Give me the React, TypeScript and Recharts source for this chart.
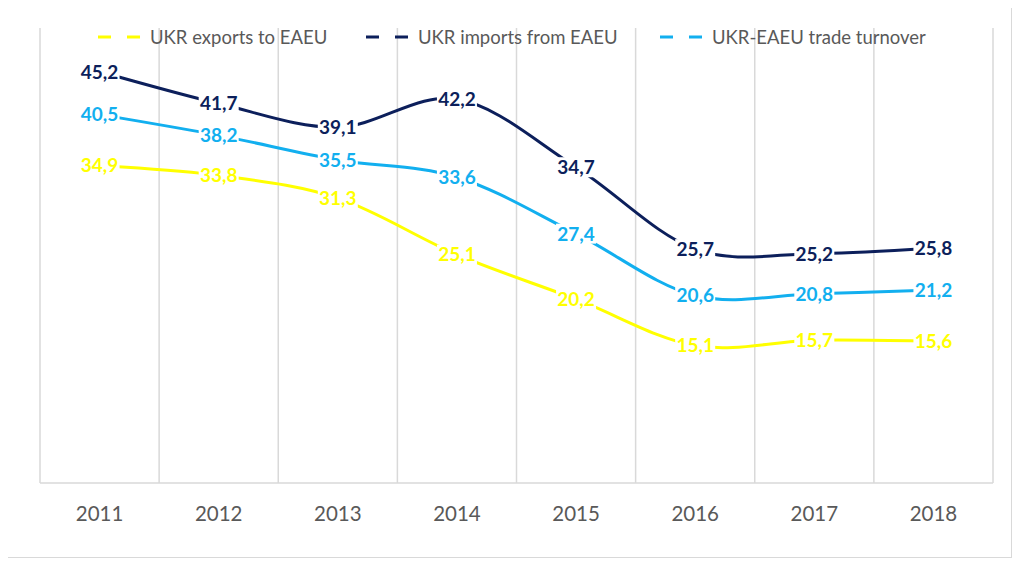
import { LineChart, Line, XAxis, YAxis, CartesianGrid, LabelList } from 'recharts';

const years = ['2011', '2012', '2013', '2014', '2015', '2016', '2017', '2018'];
const exportsEaeu = [34.9, 33.8, 31.3, 25.1, 20.2, 15.1, 15.7, 15.6];
const importsEaeu = [45.2, 41.7, 39.1, 42.2, 34.7, 25.7, 25.2, 25.8];
const turnover = [40.5, 38.2, 35.5, 33.6, 27.4, 20.6, 20.8, 21.2];

const YELLOW = '#FFFF00';
const NAVY = '#0C1F5B';
const SKY = '#12AFEF';
const GREY = '#595959';
const FONT = 'Lato, "Open Sans", sans-serif';

const data = years.map((year, i) => ({
  idx: i,
  year,
  exports: exportsEaeu[i],
  imports: importsEaeu[i],
  turnover: turnover[i],
}));

// category boundaries for the vertical gridlines
const bounds = years.map((_, i) => i - 0.5).concat(years.length - 0.5);

// smoothed line like the spreadsheet one (catmull-rom through points)
const smoothCurve = (context: any) => {
  let pts: number[][] = [];
  return {
    areaStart() {},
    areaEnd() {},
    lineStart() {
      pts = [];
    },
    point(x: number, y: number) {
      pts.push([+x, +y]);
    },
    lineEnd() {
      if (!pts.length) return;
      context.moveTo(pts[0][0], pts[0][1]);
      for (let i = 0; i < pts.length - 1; i++) {
        const p0 = pts[i - 1] || pts[i];
        const p1 = pts[i];
        const p2 = pts[i + 1];
        const p3 = pts[i + 2] || p2;
        context.bezierCurveTo(
          p1[0] + (p2[0] - p0[0]) / 6,
          p1[1] + (p2[1] - p0[1]) / 6,
          p2[0] - (p3[0] - p1[0]) / 6,
          p2[1] - (p3[1] - p1[1]) / 6,
          p2[0],
          p2[1]
        );
      }
    },
  };
};

const makeLabel = (color: string) => (props: any) => {
  const { x, y, value } = props;
  if (x == null || y == null) return null;
  const text = Number(value).toFixed(1).replace('.', ',');
  return (
    <g>
      <rect x={x - 20} y={y - 10} width={40} height={20} fill="#fff" />
      <text
        x={x}
        y={y}
        dy="0.36em"
        textAnchor="middle"
        fill={color}
        fontWeight="bold"
        fontSize={19}
        fontFamily={FONT}
      >
        {text}
      </text>
    </g>
  );
};

const legendItems = [
  { name: 'UKR exports to EAEU', color: YELLOW, left: 90 },
  { name: 'UKR imports from EAEU', color: NAVY, left: 358 },
  { name: 'UKR-EAEU trade turnover', color: SKY, left: 652 },
];

const App = () => {
  return (
    <div
      style={{
        position: 'relative',
        width: 1003,
        height: 552,
        border: '1px solid #d9d9d9',
        marginTop: -4,
        marginLeft: -1,
        background: '#fff',
      }}
    >
      <LineChart
        width={1003}
        height={552}
        data={data}
        margin={{ top: 23, right: 18, left: 32, bottom: 0 }}
      >
        <CartesianGrid
          horizontal={false}
          verticalValues={bounds}
          stroke="#d9d9d9"
          strokeWidth={1.5}
        />
        <XAxis
          dataKey="idx"
          type="number"
          domain={[-0.5, 7.5]}
          ticks={[0, 1, 2, 3, 4, 5, 6, 7]}
          tickFormatter={(i) => years[i]}
          height={74}
          axisLine={{ stroke: '#d9d9d9', strokeWidth: 1.5 }}
          tickLine={false}
          tickMargin={17}
          tick={{ fill: GREY, fontSize: 20.5, fontFamily: FONT }}
        />
        <YAxis hide domain={[0, 50]} />
        <Line
          dataKey="exports"
          type={smoothCurve as any}
          stroke={YELLOW}
          strokeWidth={3}
          dot={false}
          isAnimationActive={false}
        >
          <LabelList dataKey="exports" content={makeLabel(YELLOW)} />
        </Line>
        <Line
          dataKey="turnover"
          type={smoothCurve as any}
          stroke={SKY}
          strokeWidth={3}
          dot={false}
          isAnimationActive={false}
        >
          <LabelList dataKey="turnover" content={makeLabel(SKY)} />
        </Line>
        <Line
          dataKey="imports"
          type={smoothCurve as any}
          stroke={NAVY}
          strokeWidth={3}
          dot={false}
          isAnimationActive={false}
        >
          <LabelList dataKey="imports" content={makeLabel(NAVY)} />
        </Line>
      </LineChart>
      {legendItems.map((item) => (
        <div
          key={item.name}
          style={{
            position: 'absolute',
            left: item.left,
            top: 21,
            display: 'flex',
            alignItems: 'center',
            fontFamily: FONT,
            fontSize: 18.5,
            color: GREY,
            whiteSpace: 'nowrap',
          }}
        >
          <svg width={48} height={10} style={{ marginRight: 4 }}>
            <line
              x1={0}
              y1={5}
              x2={47}
              y2={5}
              stroke={item.color}
              strokeWidth={3}
              strokeDasharray="13 16"
            />
          </svg>
          <span>{item.name}</span>
        </div>
      ))}
    </div>
  );
};

export default App;
